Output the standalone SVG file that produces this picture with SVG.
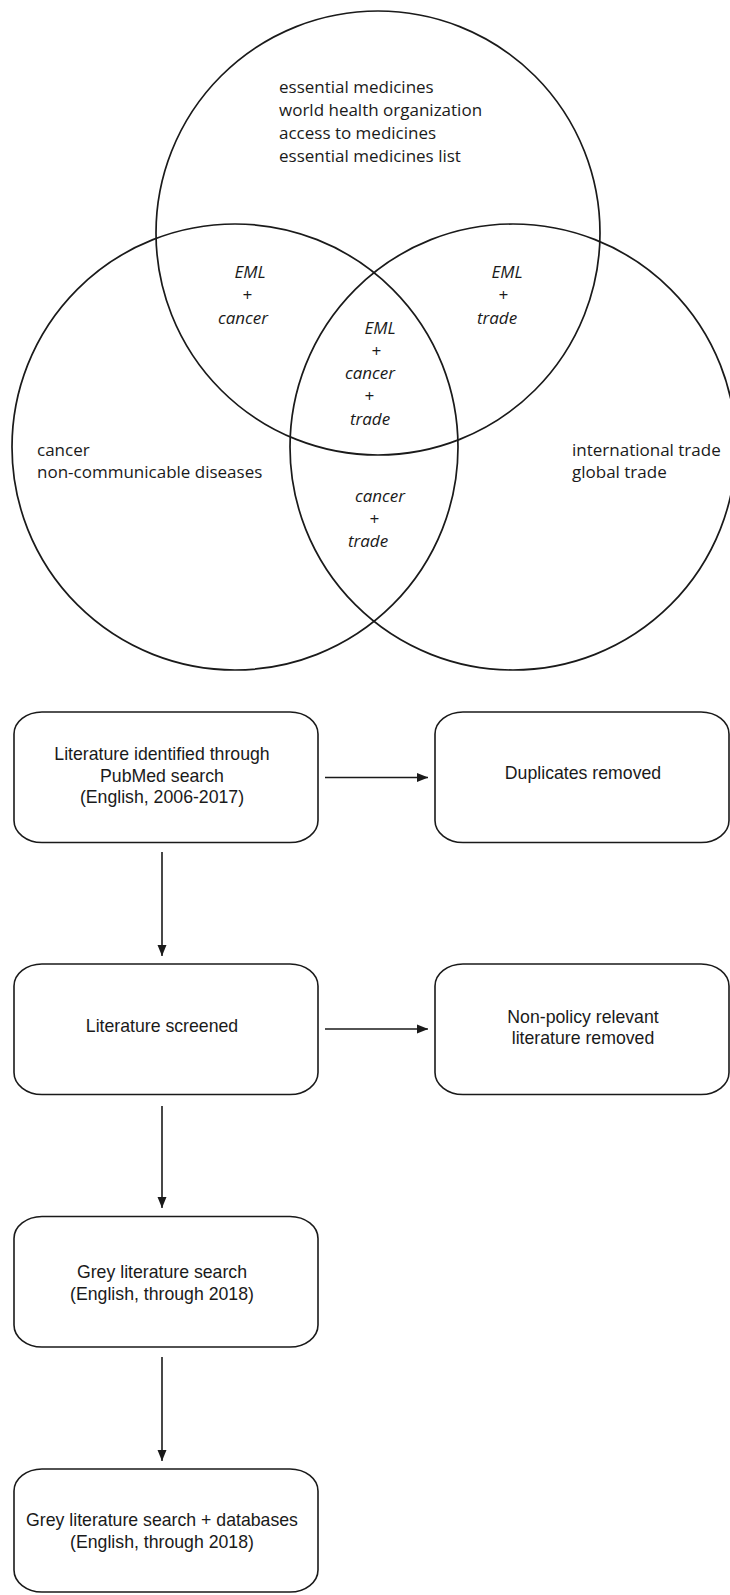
<svg xmlns="http://www.w3.org/2000/svg" width="730" height="1595" viewBox="0 0 730 1595">
<style>
.c{fill:none;stroke:#1a1a1a;stroke-width:1.7}
.b{fill:#fff;stroke:#1a1a1a;stroke-width:1.6}
.v{font-family:"Open Sans","DejaVu Sans",sans-serif;font-size:17px;fill:#1a1a1a}
.i{font-family:"Open Sans","DejaVu Sans",sans-serif;font-size:17px;font-style:italic;fill:#1a1a1a;text-anchor:middle}
.f{font-family:"Liberation Sans",Arial,sans-serif;font-size:17.7px;fill:#1a1a1a;text-anchor:middle}
.a{stroke:#1a1a1a;stroke-width:1.6;fill:none}
</style>
<defs>
<marker id="ah" markerWidth="10" markerHeight="11" refX="11" refY="5" orient="auto" markerUnits="userSpaceOnUse">
<path d="M0,0.5 L11,5 L0,9.5 Z" fill="#1a1a1a"/>
</marker>
</defs>
<rect width="730" height="1595" fill="#fff"/>
<g id="venn">
<circle class="c" cx="378" cy="233" r="222"/>
<circle class="c" cx="235" cy="447" r="223"/>
<circle class="c" cx="513" cy="447" r="223"/>
</g>
<g id="venn-labels">
<text class="v" x="279" y="93">essential medicines</text>
<text class="v" x="279" y="116">world health organization</text>
<text class="v" x="279" y="139">access to medicines</text>
<text class="v" x="279" y="162">essential medicines list</text>
<text class="i" x="250" y="278">EML</text>
<text class="i" x="247" y="301">+</text>
<text class="i" x="243" y="324">cancer</text>
<text class="i" x="507" y="278">EML</text>
<text class="i" x="503" y="301">+</text>
<text class="i" x="497" y="324">trade</text>
<text class="i" x="380" y="334">EML</text>
<text class="i" x="376" y="356.5">+</text>
<text class="i" x="370" y="379">cancer</text>
<text class="i" x="369" y="402">+</text>
<text class="i" x="370" y="425">trade</text>
<text class="v" x="37" y="456">cancer</text>
<text class="v" x="37" y="478">non-communicable diseases</text>
<text class="v" x="572" y="456">international trade</text>
<text class="v" x="572" y="478">global trade</text>
<text class="i" x="380" y="502">cancer</text>
<text class="i" x="374" y="524.5">+</text>
<text class="i" x="368" y="547">trade</text>
</g>
<g id="connectors">
<line class="a" x1="325" y1="777.5" x2="428" y2="777.5" marker-end="url(#ah)"/>
<line class="a" x1="325" y1="1029" x2="428" y2="1029" marker-end="url(#ah)"/>
<line class="a" x1="162" y1="852" x2="162" y2="956" marker-end="url(#ah)"/>
<line class="a" x1="162" y1="1106" x2="162" y2="1208" marker-end="url(#ah)"/>
<line class="a" x1="162" y1="1357" x2="162" y2="1461" marker-end="url(#ah)"/>
</g>
<g id="n1">
<rect class="b" x="14" y="712" width="304" height="130.5" rx="28" ry="22"/>
<text class="f" x="162" y="760">Literature identified through</text>
<text class="f" x="162" y="781.5">PubMed search</text>
<text class="f" x="162" y="803">(English, 2006-2017)</text>
</g>
<g id="n2">
<rect class="b" x="435" y="712" width="294" height="130.5" rx="28" ry="22"/>
<text class="f" x="583" y="779">Duplicates removed</text>
</g>
<g id="n3">
<rect class="b" x="14" y="964" width="304" height="130.5" rx="28" ry="22"/>
<text class="f" x="162" y="1031.5">Literature screened</text>
</g>
<g id="n4">
<rect class="b" x="435" y="964" width="294" height="130.5" rx="28" ry="22"/>
<text class="f" x="583" y="1022.5">Non-policy relevant</text>
<text class="f" x="583" y="1044">literature removed</text>
</g>
<g id="n5">
<rect class="b" x="14" y="1216.5" width="304" height="130.5" rx="28" ry="22"/>
<text class="f" x="162" y="1278">Grey literature search</text>
<text class="f" x="162" y="1300">(English, through 2018)</text>
</g>
<g id="n6">
<rect class="b" x="14" y="1469" width="304" height="123" rx="28" ry="22"/>
<text class="f" x="162" y="1526">Grey literature search + databases</text>
<text class="f" x="162" y="1548">(English, through 2018)</text>
</g>
</svg>
